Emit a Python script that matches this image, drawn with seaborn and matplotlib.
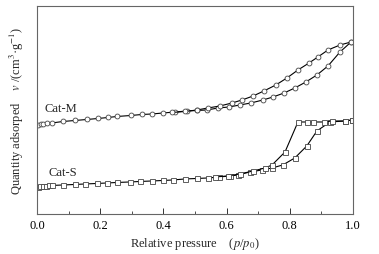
import matplotlib
matplotlib.use("Agg")
import matplotlib.pyplot as plt
import seaborn as sns
import pandas as pd
from matplotlib.ticker import MultipleLocator

# N2 adsorption-desorption isotherms (y in arbitrary units, no y scale shown)
m_ads_x = [0.003, 0.013, 0.019, 0.032, 0.047, 0.082, 0.12, 0.158, 0.193, 0.225,
           0.253, 0.297, 0.332, 0.364, 0.399, 0.437, 0.475, 0.506, 0.538, 0.573,
           0.608, 0.642, 0.677, 0.715, 0.747, 0.782, 0.816, 0.851, 0.886, 0.921,
           0.959, 0.994]
m_ads_y = [88.5, 89.5, 90, 90.5, 91, 92.5, 93.5, 94.5, 95.5, 96.5,
           97.5, 98.5, 99.5, 100, 101, 102, 103, 103.5, 104, 106,
           107, 109, 111, 114, 117, 121, 126, 132, 139, 148,
           162, 172]
m_des_x = [0.994, 0.959, 0.921, 0.889, 0.861, 0.826, 0.791, 0.756, 0.718, 0.684,
           0.649, 0.617, 0.579, 0.541, 0.506, 0.468, 0.427]
m_des_y = [172, 169, 164, 157, 151, 144, 136, 129, 123, 118,
           114, 111, 108, 106, 104, 102.5, 101.5]

s_ads_x = [0.002, 0.009, 0.019, 0.028, 0.038, 0.047, 0.082, 0.12, 0.152, 0.19,
           0.222, 0.253, 0.294, 0.326, 0.364, 0.399, 0.43, 0.468, 0.506, 0.541,
           0.576, 0.611, 0.636, 0.674, 0.712, 0.744, 0.778, 0.816, 0.854, 0.886,
           0.927, 0.975, 0.997]
s_ads_y = [27, 27.5, 28, 28, 28.5, 28.5, 29, 29.5, 30, 30.5,
           31, 31.5, 32, 32.5, 33, 33.5, 34, 35, 35.5, 36,
           37, 38, 39, 42, 44, 46, 49, 56, 68, 83,
           92, 93, 94]
s_des_x = [0.997, 0.975, 0.934, 0.908, 0.873, 0.854, 0.826, 0.785, 0.744, 0.722,
           0.684, 0.642, 0.604, 0.563]
s_des_y = [94, 93, 93, 92, 92, 92, 92, 62, 49, 46, 43, 40, 38, 37]

sns.set_style("ticks")
plt.rcParams['font.family'] = ['Liberation Serif', 'DejaVu Serif']
plt.rcParams['mathtext.fontset'] = 'stix'
plt.rcParams['font.size'] = 9

fig = plt.figure(figsize=(3.79, 2.55), dpi=100)
ax = fig.add_axes([0.0976, 0.157, 0.8336, 0.8155])

curves = [
    (m_ads_x, m_ads_y, 'o', 3.5),
    (m_des_x, m_des_y, 'o', 3.5),
    (s_ads_x, s_ads_y, 's', 3.6),
    (s_des_x, s_des_y, 's', 3.6),
]
for xs, ys, mk, ms in curves:
    df = pd.DataFrame({'p': xs, 'v': ys})
    sns.lineplot(data=df, x='p', y='v', sort=False, ax=ax, color='black',
                 linewidth=0.8, marker=mk, markersize=ms,
                 markerfacecolor='white', markeredgecolor='#444444',
                 markeredgewidth=0.6)

ax.text(0.025, 102.5, 'Cat-M', fontsize=9)
ax.text(0.035, 38.5, 'Cat-S', fontsize=9)

ax.set_xlim(0, 1.0)
ax.set_ylim(0, 208)
ax.xaxis.set_major_locator(MultipleLocator(0.2))
ax.xaxis.set_minor_locator(MultipleLocator(0.1))
ax.set_xticks([0.0, 0.2, 0.4, 0.6, 0.8, 1.0])
ax.set_xticklabels(['0.0', '0.2', '0.4', '0.6', '0.8', '1.0'])
ax.set_yticks([])
ax.tick_params(axis='x', which='major', direction='in', length=4, width=0.7,
               labelsize=9, colors='#333333', labelcolor='black')
ax.tick_params(axis='x', which='minor', direction='in', length=2.5, width=0.6,
               colors='#333333')
for sp in ax.spines.values():
    sp.set_visible(True)
    sp.set_color('#666666')
    sp.set_linewidth(0.8)

ax.set_xlabel('Relative pressure    ($p$/$p_0$)', fontsize=9, labelpad=3)
ax.set_ylabel('Quantity adsorped    $v$ /(cm$^3$·g$^{-1}$)', fontsize=9, labelpad=8)

fig.savefig('out.png', dpi=100)
